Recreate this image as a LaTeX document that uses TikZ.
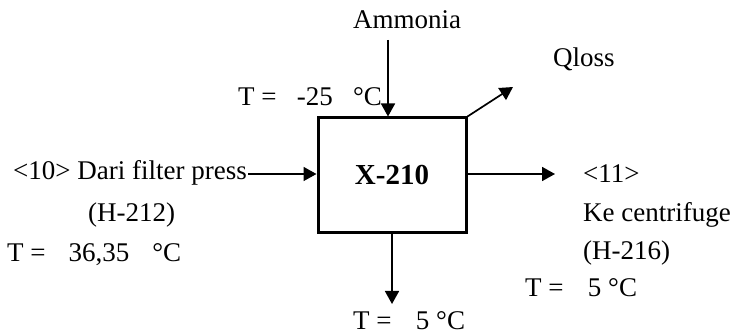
\documentclass[tikz,border=0pt]{standalone}
\usepackage{fontspec}
\setmainfont{Liberation Serif}
\usetikzlibrary{arrows.meta}
\begin{document}
\begin{tikzpicture}[x=1pt,y=-1pt,
  lbl/.style={anchor=base west,inner sep=0pt,font=\fontsize{27}{32}\selectfont},
  unitbox/.style={draw,line width=3pt,minimum width=148pt,minimum height=115pt,inner sep=0pt,font=\fontsize{29}{34}\selectfont\bfseries},
  flow/.style={line width=1.7pt,-{Triangle[length=13pt,width=14pt]}}]
\useasboundingbox (0,0) rectangle (739,336);
\node[unitbox] (box) at (392,175.5) {X-210};
\node[lbl] (amm) at (353,29) {Ammonia};
\node[lbl] (qloss) at (553,67) {Qloss};
\node[lbl] (tin) at (238,106) {T =\hspace{0.75em}-25\hspace{0.75em}°C};
\node[lbl] (l1) at (13,180) {<10> Dari filter press};
\node[lbl] (l2) at (88,222) {(H-212)};
\node[lbl] (l3) at (7,262) {T =\hspace{0.85em}36,35\hspace{0.85em}°C};
\node[lbl] (r1) at (583,183) {<11>};
\node[lbl] (r2) at (583,222) {Ke centrifuge};
\node[lbl] (r3) at (583,260) {(H-216)};
\node[lbl] (r4) at (525,297) {T =\hspace{0.9em}5 °C};
\node[lbl] (bt) at (353,330) {T =\hspace{0.9em}5 °C};
\coordinate (ammtop) at (388,40);
\coordinate (qend) at (513,87);
\coordinate (lstart) at (248,174);
\coordinate (rend) at (555,174);
\coordinate (bend) at (392,304);
\draw[flow] (ammtop) -- (ammtop |- box.north);
\draw[flow] (box.north east) -- (qend);
\draw[flow] (lstart) -- (lstart -| box.west);
\draw[flow] (rend -| box.east) -- (rend);
\draw[flow] (box.south) -- (bend);
\end{tikzpicture}
\end{document}
